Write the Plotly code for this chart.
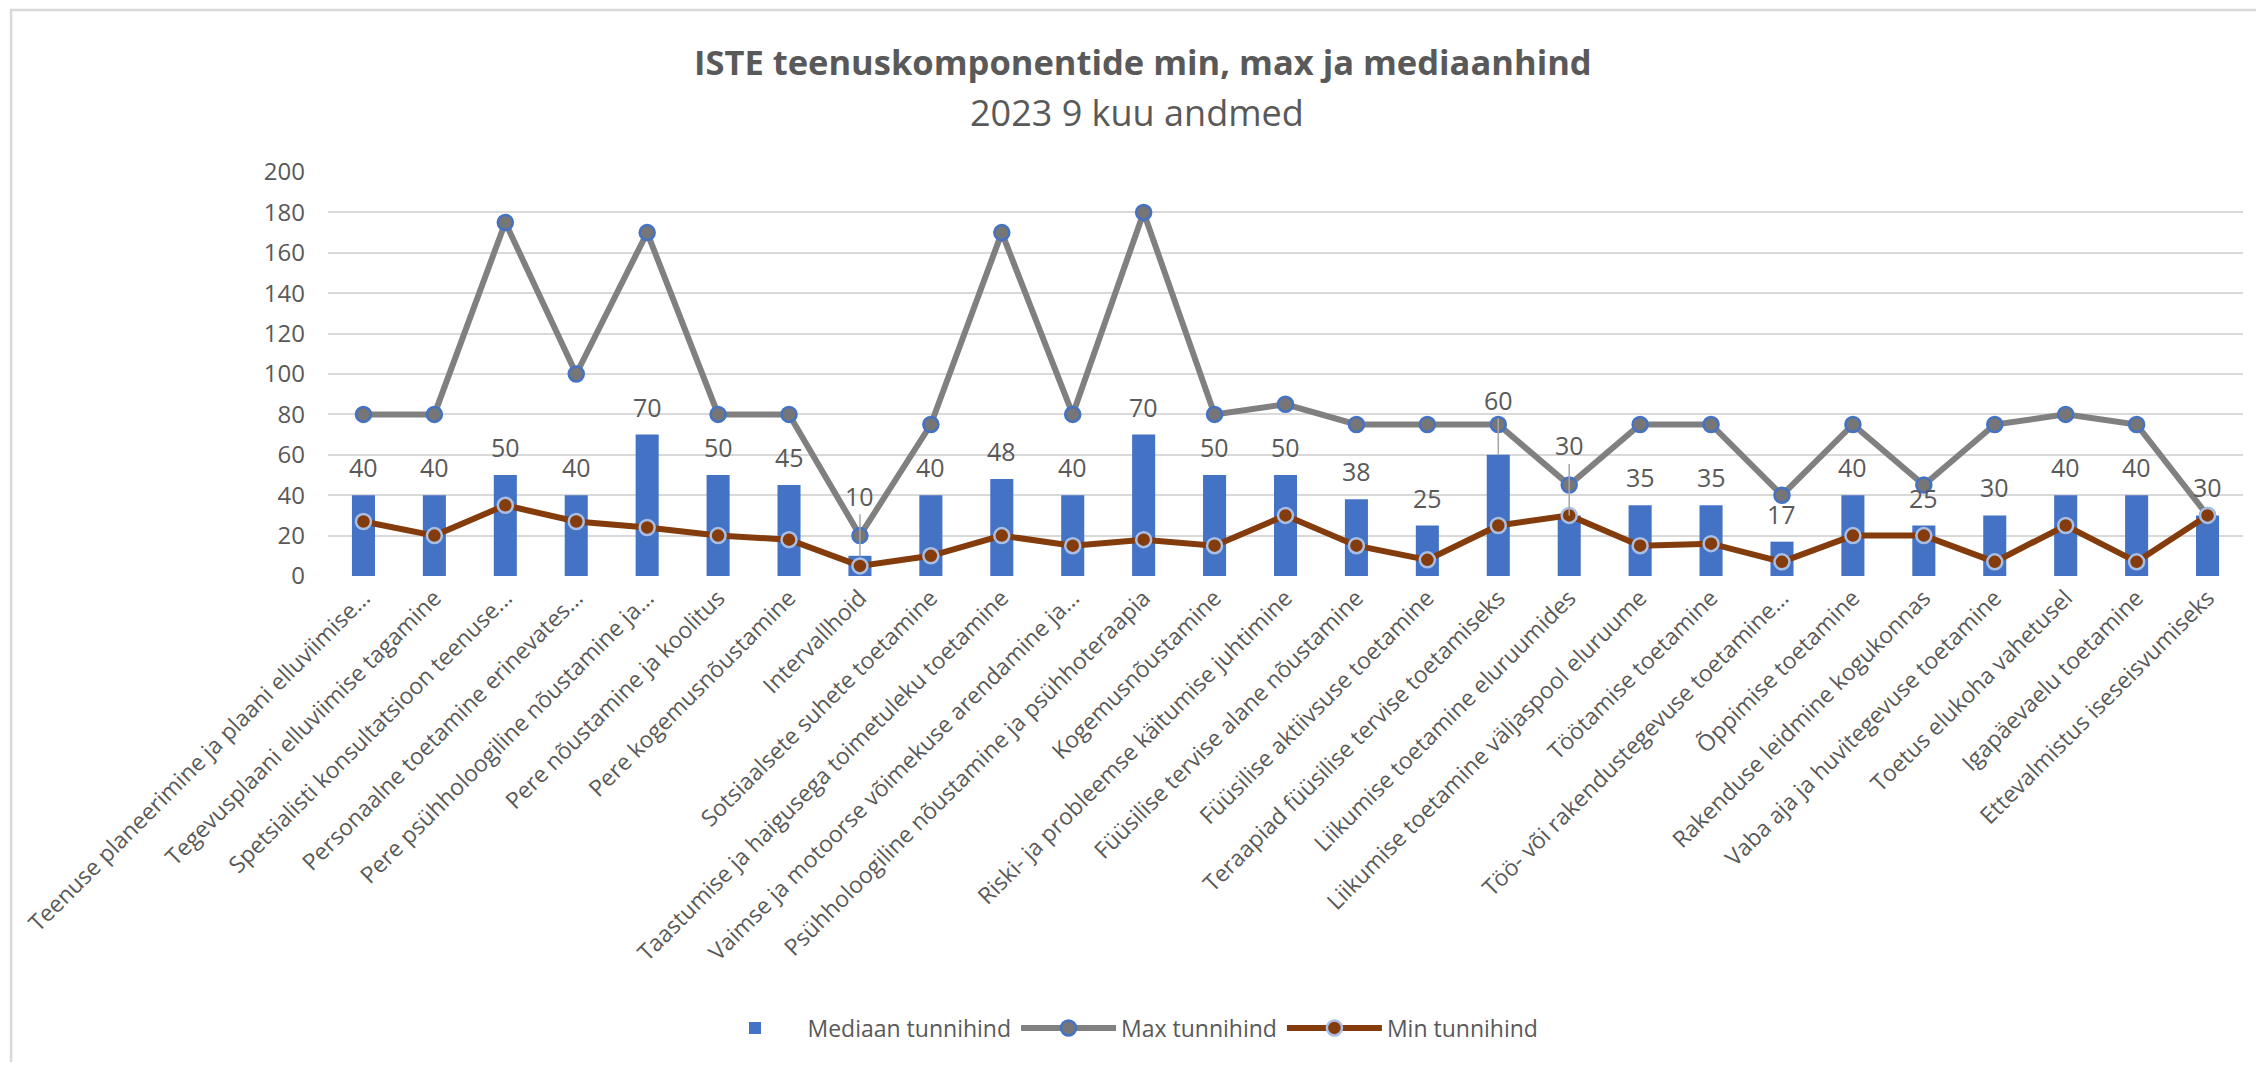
import plotly.graph_objects as go

categories = [
    "Teenuse planeerimine ja plaani elluviimise...",
    "Tegevusplaani elluviimise tagamine",
    "Spetsialisti konsultatsioon teenuse...",
    "Personaalne toetamine erinevates...",
    "Pere psühholoogiline nõustamine ja...",
    "Pere nõustamine ja koolitus",
    "Pere kogemusnõustamine",
    "Intervallhoid",
    "Sotsiaalsete suhete toetamine",
    "Taastumise ja haigusega toimetuleku toetamine",
    "Vaimse ja motoorse võimekuse arendamine ja...",
    "Psühholoogiline nõustamine ja psühhoteraapia",
    "Kogemusnõustamine",
    "Riski- ja probleemse käitumise juhtimine",
    "Füüsilise tervise alane nõustamine",
    "Füüsilise aktiivsuse toetamine",
    "Teraapiad füüsilise tervise toetamiseks",
    "Liikumise toetamine eluruumides",
    "Liikumise toetamine väljaspool eluruume",
    "Töötamise toetamine",
    "Töö- või rakendustegevuse toetamine...",
    "Õppimise toetamine",
    "Rakenduse leidmine kogukonnas",
    "Vaba aja ja huvitegevuse toetamine",
    "Toetus elukoha vahetusel",
    "Igapäevaelu toetamine",
    "Ettevalmistus iseseisvumiseks",
]

median_price = [40, 40, 50, 40, 70, 50, 45, 10, 40, 48, 40, 70, 50, 50, 38, 25, 60, 30,
                35, 35, 17, 40, 25, 30, 40, 40, 30]
max_price = [80, 80, 175, 100, 170, 80, 80, 20, 75, 170, 80, 180, 80, 85, 75, 75, 75, 45,
             75, 75, 40, 75, 45, 75, 80, 75, 30]
min_price = [27, 20, 35, 27, 24, 20, 18, 5, 10, 20, 15, 18, 15, 30, 15, 8, 25, 30,
             15, 16, 7, 20, 20, 7, 25, 7, 30]

y_ticks = [0, 20, 40, 60, 80, 100, 120, 140, 160, 180, 200]

TITLE = "ISTE teenuskomponentide min, max ja mediaanhind"
SUBTITLE = "2023 9 kuu andmed"

# ---- styling / layout ----
OFF = 8                     # page body margin
W, H = 2248, 1054           # figure size (page minus body margins)
ML = 328 - OFF
MT = 172 - OFF
MR = W - (2243.5 - OFF)
MB = H - (576 - OFF)
pw, ph = W - ML - MR, H - MT - MB
FONT = "Open Sans"
TXT = "#595959"
# labels that were dragged away from the bar (index -> pixel lift)
leader_lift = {7: 60, 16: 55, 17: 70}


def px_x(page_x):
    return (page_x - OFF - ML) / pw


def px_y(page_y):
    return 1 - (page_y - OFF - MT) / ph


fig = go.Figure()
fig.add_trace(go.Bar(
    x=categories, y=median_price, name="Mediaan tunnihind",
    marker=dict(color="#4472C4", line=dict(width=0)),
))
fig.add_trace(go.Scatter(
    x=categories, y=max_price, name="Max tunnihind", mode="lines+markers",
    line=dict(color="#808080", width=6),
    marker=dict(size=15, color="#767676", line=dict(color="#4472C4", width=2.5)),
))
fig.add_trace(go.Scatter(
    x=categories, y=min_price, name="Min tunnihind", mode="lines+markers",
    line=dict(color="#843C0C", width=6),
    marker=dict(size=15, color="#843C0C", line=dict(color="#A9BEE4", width=2.5)),
))

annotations = []
for i, (c, v) in enumerate(zip(categories, median_price)):
    if i in leader_lift:
        annotations.append(dict(
            x=c, y=v, xref="x", yref="y", text=str(v), showarrow=True,
            ax=0, ay=-leader_lift[i], arrowhead=0, arrowwidth=1.5,
            arrowcolor="#A6A6A6", standoff=0,
            font=dict(family=FONT, size=25, color=TXT),
        ))
    else:
        annotations.append(dict(
            x=c, y=v, xref="x", yref="y", text=str(v), showarrow=False,
            yanchor="middle", yshift=28,
            font=dict(family=FONT, size=25, color=TXT),
        ))

annotations.append(dict(
    x=px_x(1143), y=px_y(62), xref="paper", yref="paper", text="<b>" + TITLE + "</b>",
    showarrow=False, xanchor="center", yanchor="middle",
    font=dict(family=FONT, size=34.5, color=TXT),
))
annotations.append(dict(
    x=px_x(1137), y=px_y(112), xref="paper", yref="paper", text=SUBTITLE,
    showarrow=False, xanchor="center", yanchor="middle",
    font=dict(family=FONT, size=36, color=TXT),
))

shapes = [dict(
    type="rect", xref="paper", yref="paper",
    x0=px_x(11), x1=px_x(2300), y0=px_y(1100), y1=px_y(10),
    line=dict(color="#D9D9D9", width=2.5), fillcolor="rgba(0,0,0,0)", layer="below",
)]

fig.update_layout(
    width=W, height=H,
    margin=dict(l=ML, r=MR, t=MT, b=MB, autoexpand=False),
    paper_bgcolor="white", plot_bgcolor="white",
    font=dict(family=FONT, color=TXT),
    bargap=0.675,
    showlegend=True,
    legend=dict(
        orientation="h", xref="container", yref="container",
        x=(1123 - OFF) / W, xanchor="center", y=1 - (1028 - OFF) / H, yanchor="middle",
        font=dict(family=FONT, size=23, color=TXT),
        itemwidth=95,
    ),
    annotations=annotations,
    shapes=shapes,
    xaxis=dict(
        range=[-0.5, len(categories) - 0.5],
        tickangle=-45, tickfont=dict(family=FONT, size=23, color=TXT),
        showgrid=False, showline=False, zeroline=False, automargin=False,
        ticks="", ticklabelstandoff=3,
    ),
    yaxis=dict(
        range=[0, 200], tickvals=y_ticks, showgrid=True, gridcolor="#D9D9D9", gridwidth=2,
        zeroline=False, showline=False, automargin=False,
        tickfont=dict(family=FONT, size=24, color=TXT), ticklabelstandoff=22,
    ),
)

fig.write_html("out.html")
